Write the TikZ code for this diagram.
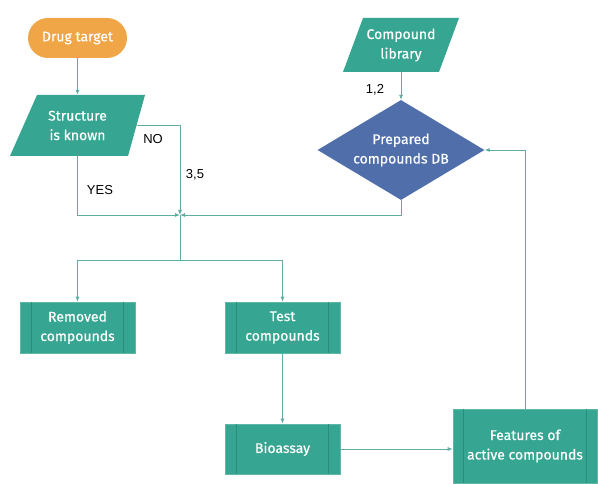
\documentclass[tikz,border=0pt]{standalone}
\usepackage{fontspec}
\setmainfont{Fira Sans}
\newfontfamily\boxfont[FakeBold=0.5]{Fira Sans}
\newfontfamily\lblfont{Liberation Sans}
\usetikzlibrary{shapes.geometric,arrows.meta,calc}
\definecolor{tealbox}{RGB}{54,165,146}
\definecolor{tealline}{RGB}{42,142,124}
\definecolor{conn}{RGB}{95,172,162}
\definecolor{orangebox}{RGB}{240,165,70}
\definecolor{bluebox}{RGB}{79,110,170}
\begin{document}
\begin{tikzpicture}[x=1pt,y=-1pt,
  boxtext/.style={font=\boxfont\fontsize{14}{19.5}\selectfont, text=white, align=center, inner sep=0pt},
  proc/.style={boxtext, rectangle, fill=tealbox, draw=tealbox!80!white, line width=0.6pt},
  inner/.style={draw=tealline, line width=0.6pt},
  conn/.style={draw=conn, line width=0.8pt},
  arr/.style={conn, -{Latex[length=5pt,width=4pt]}},
  lbl/.style={font=\lblfont\fontsize{13}{15}\selectfont, text=black, inner sep=0pt}]
\useasboundingbox (0,0) rectangle (598,484);

% Drug target
\node[boxtext, fill=orangebox, rounded corners=20pt, minimum width=99pt, minimum height=40pt] (drug) at (77.5,38) {Drug target};

% Structure is known (parallelogram)
\fill[tealbox] (37,95) -- (145,95) -- (128,156) -- (10,156) -- cycle;
\node[boxtext, minimum width=118pt, minimum height=61pt] (struct) at (77.5,125.5) {Structure\\is known};

% Compound library (parallelogram)
\fill[tealbox] (363,18) -- (459,18) -- (439,72) -- (343,72) -- cycle;
\node[boxtext, minimum width=96pt, minimum height=54pt] (lib) at (401,45) {Compound\\library};

% Prepared compounds DB
\node[boxtext, diamond, aspect=1.67, fill=bluebox, minimum width=167pt, minimum height=100pt] (db) at (401,150) {Prepared\\compounds DB};

% Process boxes
\node[proc, minimum width=115pt, minimum height=51pt] (rem) at (77.5,327.5) {Removed\\compounds};
\node[proc, minimum width=115pt, minimum height=51pt] (test) at (282.5,327.5) {Test\\compounds};
\node[proc, minimum width=115pt, minimum height=50pt] (bio) at (282.5,449) {Bioassay};
\node[proc, minimum width=144pt, minimum height=74pt] (feat) at (525,446) {Features of\\active compounds};

\foreach \n/\d in {rem/12, test/12, bio/12, feat/11} {
  \draw[inner] ([xshift=\d pt]\n.north west) -- ([xshift=\d pt]\n.south west);
  \draw[inner] ([xshift=-\d pt]\n.north east) -- ([xshift=-\d pt]\n.south east);
}

% Junctions
\coordinate (j) at (180,215);
\coordinate (split) at (180,260);

% Connectors
\draw[arr] (drug.south) -- (struct.north);
\draw[arr] (lib.south) -- (db.north);
\draw[arr] (struct.east) -| (j);
\draw[arr] (struct.south) |- (j);
\draw[arr] (db.south) |- (j);
\draw[conn] (j) -- (split);
\draw[arr] (split) -| (rem.north);
\draw[arr] (split) -| (test.north);
\draw[arr] (test.south) -- (bio.north);
\draw[arr] (bio.east) -- (bio.east -| feat.west);
\draw[arr] (feat.north) |- (db.east);

% Labels
\node[lbl] (no) at (153,139) {NO};
\node[lbl] (yes) at (100,190) {YES};
\node[lbl] (l35) at (195,175) {3,5};
\node[lbl] (l12) at (375,90) {1,2};
\end{tikzpicture}
\end{document}
